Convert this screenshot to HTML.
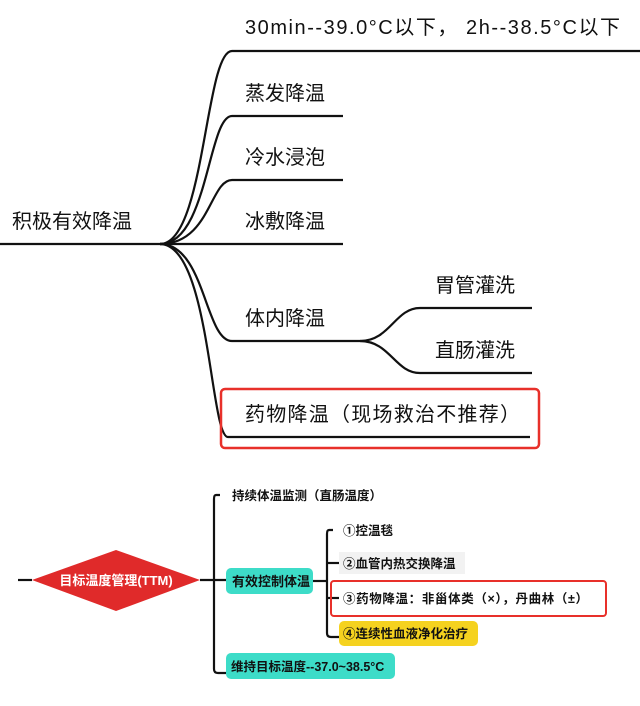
<!DOCTYPE html>
<html><head><meta charset="utf-8"><style>
html,body{margin:0;padding:0;background:#fff;}
svg{display:block;}
text{font-family:"Liberation Sans","Noto Sans CJK SC",sans-serif;fill:#111;}
.b text{font-weight:bold;}
</style></head><body>
<svg width="640" height="706" viewBox="0 0 640 706" xmlns="http://www.w3.org/2000/svg">
<g fill="none" stroke="#111" stroke-width="2.2">
<path d="M0 244 H160"/>
<path d="M160 244 C205 244,205 51,232 51 H640"/>
<path d="M160 244 C208 244,208 116,232 116 H343"/>
<path d="M160 244 C210 244,210 180,232 180 H343"/>
<path d="M160 244 H343"/>
<path d="M160 244 C205 244,205 341,232 341 H360"/>
<path d="M160 244 C210 244,210 437,228 437 H530"/>
<path d="M360 341 C390 341,395 308,420 308 H532"/>
<path d="M360 341 C390 341,395 373,420 373 H532"/>
</g>
<rect x="221" y="389" width="318" height="59" rx="4" fill="none" stroke="#e8302a" stroke-width="2.5"/>
<g font-size="20">
<text x="245" y="34" textLength="375" lengthAdjust="spacing">30min--39.0°C以下， 2h--38.5°C以下</text>
<text x="245" y="100">蒸发降温</text>
<text x="245" y="164">冷水浸泡</text>
<text x="245" y="228">冰敷降温</text>
<text x="12" y="228">积极有效降温</text>
<text x="245" y="325">体内降温</text>
<text x="435" y="292">胃管灌洗</text>
<text x="435" y="357">直肠灌洗</text>
<text x="245" y="421" textLength="275" lengthAdjust="spacing">药物降温（现场救治不推荐）</text>
</g>
<!-- bottom -->
<g fill="none" stroke="#111" stroke-width="2.2">
<path d="M18 580 H32"/>
<path d="M200 580 H226"/>
<path d="M220 495 H216 Q214 495 214 499 V669 Q214 673 218 673 H226"/>
<path d="M313 581 H327"/>
<path d="M333 530 H329 Q327 530 327 534 V633 Q327 637 331 637 H339"/>
<path d="M327 563 H339"/>
<path d="M327 598 H339"/>
</g>
<polygon points="32,580 116,550 200,580 116,611" fill="#e02a2a"/>
<g class="b">
<text x="116" y="585" font-size="13" style="fill:#fff" text-anchor="middle">目标温度管理(TTM)</text>
<text x="232" y="500" font-size="12.5">持续体温监测（直肠温度）</text>
<rect x="226" y="568" width="87" height="26" rx="5" fill="#3ddcc8"/>
<text x="232" y="586" font-size="13">有效控制体温</text>
<rect x="226" y="653" width="169" height="26" rx="5" fill="#3ddcc8"/>
<text x="231" y="671" font-size="12.5">维持目标温度--37.0~38.5°C</text>
<text x="343" y="535" font-size="12.5">①控温毯</text>
<rect x="339" y="552" width="126" height="22" fill="#f2f2f2"/>
<text x="343" y="568" font-size="12.5">②血管内热交换降温</text>
<rect x="331" y="581" width="275" height="35" rx="3" fill="none" stroke="#e8302a" stroke-width="2"/>
<text x="343" y="603" font-size="12.5" textLength="245" lengthAdjust="spacing">③药物降温：非甾体类（×），丹曲林（±）</text>
<rect x="339" y="621" width="139" height="25" rx="5" fill="#f5d21f"/>
<text x="343" y="638" font-size="12.5">④连续性血液净化治疗</text>
</g>
</svg>
</body></html>
